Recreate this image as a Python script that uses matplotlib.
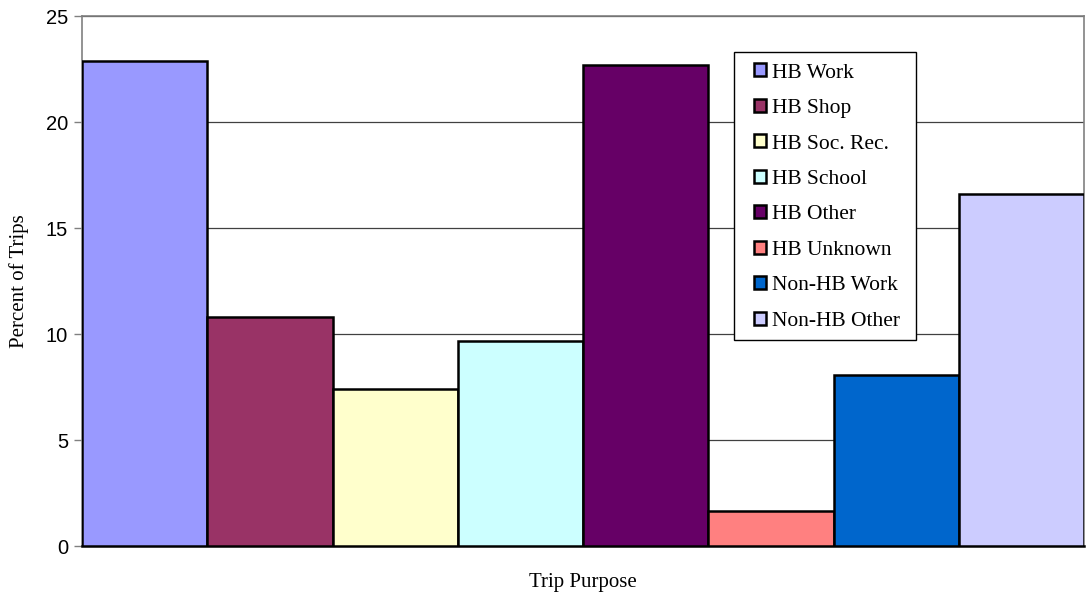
import matplotlib
matplotlib.use("Agg")
import matplotlib.pyplot as plt
from matplotlib.patches import Patch, Rectangle

# Trip purpose shares
purposes = ["HB Work", "HB Shop", "HB Soc. Rec.", "HB School", "HB Other",
            "HB Unknown", "Non-HB Work", "Non-HB Other"]
percent_of_trips = [22.9, 10.8, 7.4, 9.65, 22.7, 1.65, 8.05, 16.6]
bar_colors = ["#9999FF", "#993366", "#FFFFCC", "#CCFFFF", "#660066",
              "#FF8080", "#0066CC", "#CCCCFF"]
y_ticks = [0, 5, 10, 15, 20, 25]

W, H = 1086, 599
fig = plt.figure(figsize=(W / 100, H / 100), dpi=100)
ax = fig.add_axes([82 / W, 1 - 546 / H, (1084 - 82) / W, (546 - 16) / H])

serif = "Liberation Serif"
sans = "Liberation Sans"

x = list(range(len(purposes)))
ax.bar(x, percent_of_trips, width=1.0, color=bar_colors,
       edgecolor="black", linewidth=1.8, zorder=3)

ax.set_xlim(-0.5, len(purposes) - 0.5)
ax.set_ylim(0, 25)
ax.set_yticks(y_ticks)
ax.set_yticklabels([str(t) for t in y_ticks], fontfamily=sans, fontsize=14.5)
ax.set_xticks([])
ax.tick_params(axis="y", direction="out", length=6, width=1, color="#808080", pad=4)

ax.yaxis.grid(True, color="#404040", linewidth=0.9, zorder=0)
ax.set_axisbelow(True)
for side in ["top", "right", "left"]:
    ax.spines[side].set_color("#808080")
    ax.spines[side].set_linewidth(1.2)
ax.spines["bottom"].set_color("black")
ax.spines["bottom"].set_linewidth(1.8)

fig.text(19 / W, 1 - 281 / H, "Percent of Trips", rotation=90,
         ha="center", va="center", fontfamily=serif, fontsize=15)
fig.text(583 / W, 1 - 583 / H, "Trip Purpose",
         ha="center", va="center", fontfamily=serif, fontsize=15)

# Legend box drawn as its own rectangle, entries placed inside it
box = Rectangle((734 / W, 1 - 340 / H), (916 - 734) / W, (340 - 52) / H,
                transform=fig.transFigure, facecolor="white", edgecolor="black",
                linewidth=1.0, zorder=4)
fig.add_artist(box)

handles = [Patch(facecolor=c, edgecolor="black", linewidth=1.8) for c in bar_colors]
leg = fig.legend(handles, purposes, loc="upper left",
                 bbox_to_anchor=(754 / W, 1 - 63.5 / H), bbox_transform=fig.transFigure,
                 prop={"family": serif, "size": 15.5}, frameon=False,
                 borderpad=0, handlelength=0.55, handleheight=0.55,
                 handletextpad=0.3, labelspacing=0.76, borderaxespad=0)
leg.set_zorder(5)

fig.savefig("out.png", dpi=100, facecolor="white")
